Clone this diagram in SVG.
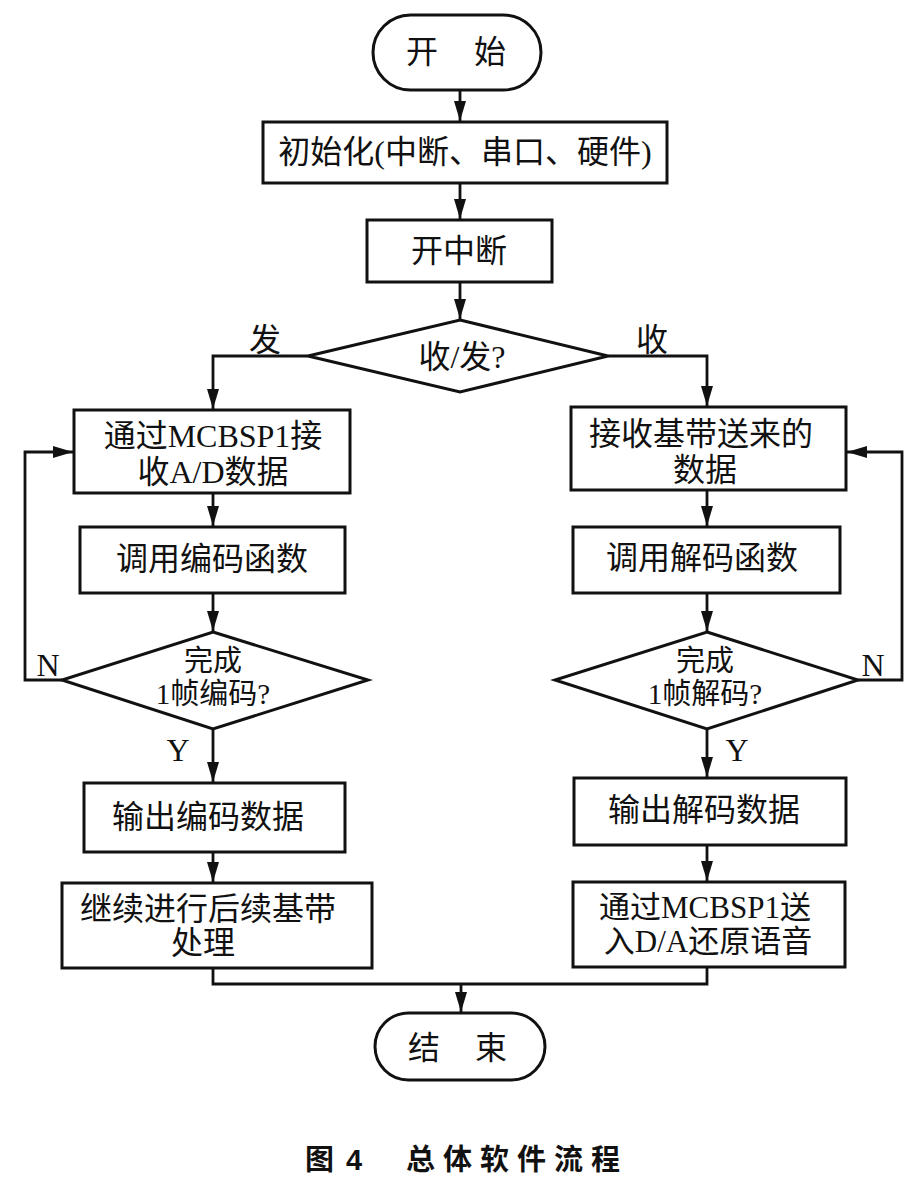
<svg xmlns="http://www.w3.org/2000/svg" width="921" height="1186" viewBox="0 0 921 1186">
<style>
.box{fill:#fff;stroke:#111;stroke-width:3}
.ln{fill:none;stroke:#111;stroke-width:2.8}
.t{font-family:"Liberation Serif","Noto Sans CJK SC",serif;font-size:32px;fill:#111;text-anchor:middle;dominant-baseline:central}
.s{font-size:29px}
.cap{font-family:"Liberation Sans","Noto Sans CJK SC",sans-serif;font-size:29px;font-weight:bold;fill:#111;dominant-baseline:central}
</style>
<defs>
<marker id="ah" markerUnits="userSpaceOnUse" markerWidth="21" markerHeight="13" refX="20" refY="6" orient="auto">
<path d="M0,0 L20,6 L0,12 z" fill="#111"/>
</marker>
</defs>
<rect width="921" height="1186" fill="#fff"/>
<g id="connectors">
<path class="ln" d="M460,90 V121" marker-end="url(#ah)"/>
<path class="ln" d="M460,183 V219" marker-end="url(#ah)"/>
<path class="ln" d="M460,282 V319" marker-end="url(#ah)"/>
<path class="ln" d="M308,356 H213 V409" marker-end="url(#ah)"/>
<path class="ln" d="M608,356 H707 V406" marker-end="url(#ah)"/>
<path class="ln" d="M213,493 V526" marker-end="url(#ah)"/>
<path class="ln" d="M213,593 V631" marker-end="url(#ah)"/>
<path class="ln" d="M62,680 H25 V452 H73" marker-end="url(#ah)"/>
<path class="ln" d="M213,729 V782" marker-end="url(#ah)"/>
<path class="ln" d="M213,852 V882" marker-end="url(#ah)"/>
<path class="ln" d="M707,490 V526" marker-end="url(#ah)"/>
<path class="ln" d="M707,593 V631" marker-end="url(#ah)"/>
<path class="ln" d="M858,680 H902 V452 H847" marker-end="url(#ah)"/>
<path class="ln" d="M707,729 V777" marker-end="url(#ah)"/>
<path class="ln" d="M707,845 V881" marker-end="url(#ah)"/>
<path class="ln" d="M213,968 V984 H707 V967"/>
<path class="ln" d="M461,984 V1012" marker-end="url(#ah)"/>
<text class="t" x="265" y="340">发</text>
<text class="t" x="652" y="340">收</text>
<text class="t" x="48" y="665">N</text>
<text class="t" x="873" y="665">N</text>
<text class="t" x="178" y="750">Y</text>
<text class="t" x="737" y="750">Y</text>
</g>
<g id="start">
<rect class="box" x="373" y="15" width="168" height="75" rx="37.5"/>
<text class="t" y="52"><tspan x="422">开</tspan><tspan x="490">始</tspan></text>
</g>
<g id="init">
<rect class="box" x="263" y="122" width="404" height="61"/>
<text class="t" x="465" y="152">初始化(中断、串口、硬件)</text>
</g>
<g id="enable-int">
<rect class="box" x="367" y="220" width="185" height="62"/>
<text class="t" x="459" y="251">开中断</text>
</g>
<g id="decide-rx-tx">
<polygon class="box" points="460,320 608,356 460,392 308,356"/>
<text class="t" x="462" y="357">收/发?</text>
</g>
<g id="tx-receive-ad">
<rect class="box" x="74" y="410" width="276" height="83"/>
<text class="t" x="213" y="436">通过MCBSP1接</text>
<text class="t" x="213" y="472">收A/D数据</text>
</g>
<g id="tx-encode">
<rect class="box" x="80" y="527" width="265" height="66"/>
<text class="t" x="212" y="559">调用编码函数</text>
</g>
<g id="tx-decide">
<polygon class="box" points="213,632 368,680 213,729 62,680"/>
<text class="t s" x="213" y="661">完成</text>
<text class="t s" x="213" y="694">1帧编码?</text>
</g>
<g id="tx-output">
<rect class="box" x="84" y="783" width="261" height="69"/>
<text class="t" x="208" y="817">输出编码数据</text>
</g>
<g id="tx-baseband">
<rect class="box" x="62" y="883" width="310" height="85"/>
<text class="t" x="208" y="909">继续进行后续基带</text>
<text class="t" x="203" y="943">处理</text>
</g>
<g id="rx-receive">
<rect class="box" x="571" y="407" width="275" height="83"/>
<text class="t" x="701" y="434">接收基带送来的</text>
<text class="t" x="705" y="470">数据</text>
</g>
<g id="rx-decode">
<rect class="box" x="573" y="527" width="267" height="66"/>
<text class="t" x="702" y="558">调用解码函数</text>
</g>
<g id="rx-decide">
<polygon class="box" points="707,632 858,680 707,729 555,680"/>
<text class="t s" x="705" y="661">完成</text>
<text class="t s" x="705" y="694">1帧解码?</text>
</g>
<g id="rx-output">
<rect class="box" x="574" y="778" width="272" height="67"/>
<text class="t" x="704" y="810">输出解码数据</text>
</g>
<g id="rx-da">
<rect class="box" x="573" y="882" width="272" height="85"/>
<text class="t" x="705" y="907" style="font-size:31px">通过MCBSP1送</text>
<text class="t" x="708" y="941" style="font-size:31px">入D/A还原语音</text>
</g>
<g id="end">
<rect class="box" x="375" y="1013" width="170" height="67" rx="33.5"/>
<text class="t" y="1048"><tspan x="424">结</tspan><tspan x="491">束</tspan></text>
</g>
<g id="caption">
<text class="cap" x="305" y="1160">图</text>
<text class="cap" x="346" y="1160">4</text>
<text class="cap" x="406" y="1160" letter-spacing="8">总体软件流程</text>
</g>
</svg>
